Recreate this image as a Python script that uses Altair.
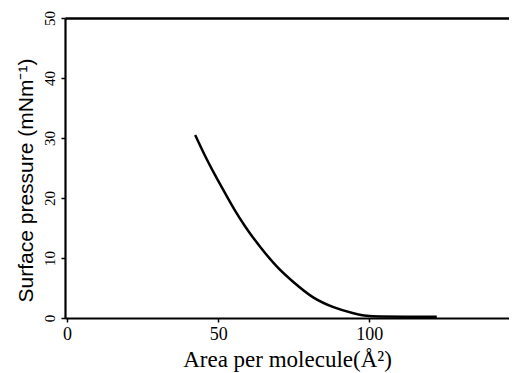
import altair as alt
import pandas as pd

area = [42.4, 45.7, 49.0, 52.3, 55.6, 58.9, 62.3, 65.6, 69.4, 74.9, 81.6, 88.2, 94.8, 99.2, 103.6, 112.0, 122.4]
pressure = [30.5, 27.0, 23.8, 20.8, 17.9, 15.3, 12.9, 10.8, 8.6, 6.0, 3.4, 1.8, 0.8, 0.37, 0.24, 0.2, 0.2]
x_ticks = [0, 50, 100]
y_ticks = [0, 10, 20, 30, 40, 50]

df = pd.DataFrame({"area": area, "pressure": pressure})

xscale = alt.Scale(domain=[-0.7, 146.3], nice=False, zero=False)
yscale = alt.Scale(domain=[0, 50], nice=False)

base = alt.Chart(df)

line = base.mark_line(color="black", strokeWidth=2.5, interpolate="monotone").encode(
    x=alt.X("area:Q", scale=xscale,
            axis=alt.Axis(orient="bottom", values=x_ticks, title="Area per molecule(Å²)",
                          titleFont="Liberation Serif", titleFontSize=23, titleFontWeight="normal",
                          titleBaseline="alphabetic", titleY=48,
                          labelFont="Liberation Serif", labelFontSize=18, labelPadding=3,
                          tickSize=4, tickWidth=1.5, domainWidth=2.2,
                          domainColor="black", tickColor="black", labelColor="black", titleColor="black")),
    y=alt.Y("pressure:Q", scale=yscale,
            axis=alt.Axis(orient="left", values=y_ticks, title="Surface pressure (mNm⁻¹)",
                          titleFont="Liberation Sans", titleFontSize=21, titleFontWeight="normal",
                          titleAngle=270, titleAlign="center", titleBaseline="alphabetic",
                          titleX=-33, titleY=162,
                          labelFont="Liberation Serif", labelFontSize=15, labelAngle=270,
                          labelAlign="center", labelBaseline="alphabetic", labelPadding=7,
                          tickSize=4, tickWidth=1.5, domainWidth=2.2,
                          domainColor="black", tickColor="black", labelColor="black", titleColor="black")),
)

top = base.mark_line(opacity=0).encode(
    x=alt.X("area:Q", scale=xscale,
            axis=alt.Axis(orient="top", title=None, labels=False, ticks=False,
                          domainWidth=2.5, domainColor="black")),
    y=alt.Y("pressure:Q", scale=yscale),
)

chart = alt.layer(line, top).resolve_axis(x="independent").properties(
    width=444, height=300,
    autosize=alt.AutoSizeParams(type="none"),
    padding={"left": 57, "top": 10, "right": 0, "bottom": 55},
).configure_view(stroke=None).configure_axis(grid=False)

chart.save("out.html", embed_options={"renderer": "svg", "actions": False})
